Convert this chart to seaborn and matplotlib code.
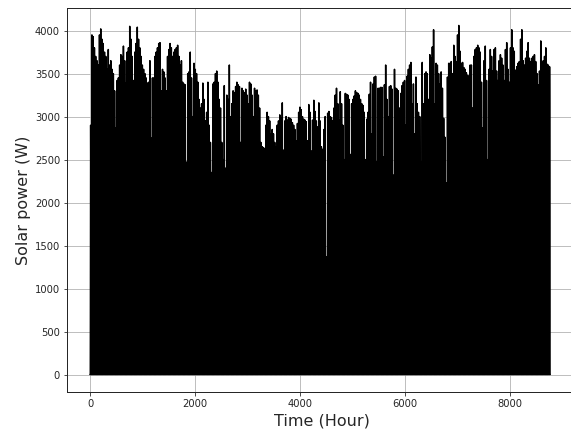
import numpy as np
import pandas as pd
import matplotlib
matplotlib.use("Agg")
import matplotlib.pyplot as plt
import seaborn as sns

# Daily peak solar power (W), one value per day of the year, read from the envelope
daily_peak = [
    2900, 3950, 3930, 3800, 3700, 3650, 3600, 3950, 4020, 3900,
    3850, 3750, 3700, 3550, 3780, 3600, 3650, 3550, 3500, 3300,
    2870, 3420, 3450, 3600, 3720, 3700, 3820, 3650, 3390, 3750,
    3800, 4050, 3900, 3700, 3420, 3750, 3850, 4040, 3900, 3800,
    3700, 3600, 3550, 3500, 3450, 3390, 3400, 3650, 2750, 3450,
    3450, 3700, 3750, 3800, 3850, 3860, 3300, 3550, 3520, 3450,
    3300, 3700, 3780, 3850, 3800, 3700, 3750, 3780, 3800, 3830,
    3700, 3600, 3650, 3400, 3380, 3370, 2470, 3500, 3520, 3750,
    3450, 3000, 3620, 3550, 3500, 3400, 3200, 3100, 3150, 3390,
    3200, 2950, 3050, 3400, 2900, 2700, 2350, 3380, 3400, 3500,
    3530, 3400, 3200, 3100, 2700, 2500, 3360, 2400, 3250, 3200,
    3600, 3000, 3150, 3300, 3280, 3350, 3400, 3370, 3350, 2700,
    3330, 3300, 3280, 3320, 3250, 3150, 3400, 3380, 3250, 3000,
    3330, 3300, 3310, 3250, 3100, 2700, 2650, 2640, 2630, 2900,
    3050, 3000, 2950, 2800, 2850, 2800, 2700, 2650, 2900, 2950,
    3020, 2980, 3160, 2610, 2950, 3000, 2960, 2990, 2980, 2970,
    2930, 2900, 2850, 2720, 2920, 3050, 3110, 3080, 3000, 2970,
    2960, 2940, 2720, 3140, 3050, 2600, 2960, 3190, 3060, 2950,
    2880, 3160, 2950, 2650, 2620, 2850, 3000, 1370, 3040, 3060,
    3000, 2990, 2950, 3100, 3250, 3330, 3150, 2960, 3290, 3150,
    2900, 2500, 3270, 3260, 3250, 3200, 2560, 3150, 3200, 3240,
    3300, 3280, 3270, 3250, 3200, 3150, 3130, 3050, 2500, 2970,
    3050, 3260, 3400, 2800, 3380, 3460, 3470, 2470, 3330, 3330,
    3340, 3340, 2530, 3370, 3600, 3200, 3000, 3350, 3360, 3320,
    2320, 3550, 3330, 3320, 3300, 3100, 3270, 3360, 3400, 3420,
    2900, 3470, 3550, 3600, 3630, 3150, 3380, 2800, 3460, 3150,
    3050, 3000, 2470, 3630, 3150, 3500, 3520, 3500, 3200, 3720,
    3680, 3810, 4010, 3150, 3620, 3600, 3500, 3380, 3520, 3330,
    2980, 2760, 2230, 3460, 3620, 3620, 3640, 3500, 3830, 3700,
    3640, 3950, 4060, 3760, 3620, 3630, 3570, 3550, 3510, 3480,
    3470, 3600, 3600, 3100, 3700, 3780, 3800, 3830, 3800, 3750,
    3400, 2870, 3650, 3820, 3420, 2500, 3550, 3780, 3700, 3530,
    3780, 3800, 3530, 3420, 3650, 3720, 3680, 3600, 3420, 3780,
    3860, 3550, 3400, 3800, 4010, 3800, 3760, 3540, 3580, 3620,
    3640, 3900, 4010, 3650, 3600, 3680, 3760, 3860, 3680, 3640,
    3680, 3700, 3720, 3640, 3500, 3370, 3530, 3880, 3620, 3650,
    3700, 3800, 3610, 3600, 3580,
]

# Relative output over the 24 hours of a day
hourly_shape = [0.0, 0.0, 0.0, 0.0, 0.0, 0.0, 0.05, 0.2, 0.4, 0.6, 0.78, 0.92,
                1.0, 0.97, 0.88, 0.72, 0.52, 0.3, 0.1, 0.0, 0.0, 0.0, 0.0, 0.0]

power = np.outer(np.array(daily_peak, dtype=float), np.array(hourly_shape)).ravel()
hours = np.arange(power.size)
df = pd.DataFrame({"Time (Hour)": hours, "Solar power (W)": power})

sns.set_theme(style="ticks", rc={
    "axes.grid": True,
    "grid.color": "#b0b0b0",
    "grid.linewidth": 0.8,
    "axes.edgecolor": "#262626",
    "axes.linewidth": 1.0,
    "xtick.major.size": 3.5,
    "ytick.major.size": 3.5,
    "xtick.major.width": 0.8,
    "ytick.major.width": 0.8,
    "xtick.labelsize": 10,
    "ytick.labelsize": 10,
    "axes.labelsize": 16,
})
plt.rcParams["font.family"] = ["DejaVu Sans"]

fig = plt.figure(figsize=(571 / 72, 433 / 72), dpi=72)
ax = fig.add_axes([67 / 571, 41 / 433, 510 / 571, 384 / 433])
sns.lineplot(data=df, x="Time (Hour)", y="Solar power (W)", color="black",
             linewidth=1.5, estimator=None, ax=ax)
ax.set_xlim(-438, 9270)
ax.set_xticks([0, 2000, 4000, 6000, 8000])
ax.set_yticks(np.arange(0, 4001, 500))
ax.set_xlabel("Time (Hour)", fontsize=16)
ax.set_ylabel("Solar power (W)", fontsize=16)
fig.savefig("out.png", dpi=72)
